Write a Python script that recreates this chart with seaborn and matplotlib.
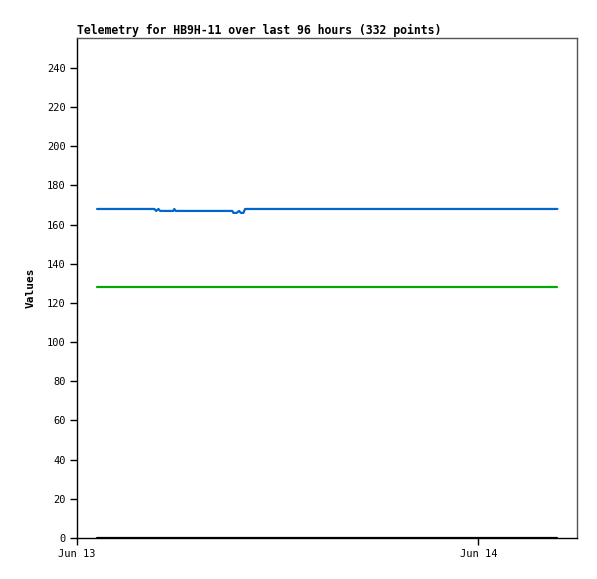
import numpy as np
import pandas as pd
import matplotlib
matplotlib.use("Agg")
import matplotlib.pyplot as plt
import matplotlib.dates as mdates
import seaborn as sns

# Data (hours after Jun 13 00:00)
start = pd.Timestamp("2023-06-13 00:00")
blue_hours = [1.2, 4.63, 4.73, 4.87, 4.97, 5.75, 5.82, 5.9, 9.29, 9.35, 9.55, 9.69, 9.8, 9.95, 10.05, 28.73]
blue_values = [168, 168, 167, 168, 167, 167, 168, 167, 167, 166, 166, 167, 166, 166, 168, 168]
green_hours = [1.2, 28.73]
green_values = [128, 128]
black_hours = [1.2, 28.73]
black_values = [0, 0]

def to_frame(hours, values):
    return pd.DataFrame({"time": start + pd.to_timedelta(hours, unit="h"), "value": values})

blue = to_frame(blue_hours, blue_values)
green = to_frame(green_hours, green_values)
black = to_frame(black_hours, black_values)

sns.set_style("ticks")
plt.rcParams['font.family'] = ['DejaVu Sans Mono']
plt.rcParams['text.color'] = 'black'
plt.rcParams['axes.labelcolor'] = 'black'
plt.rcParams['xtick.color'] = 'black'
plt.rcParams['ytick.color'] = 'black'

fig = plt.figure(figsize=(5.97, 5.79), dpi=100)
ax = fig.add_axes([77 / 597, 1 - 538 / 579, 500 / 597, 500 / 579])

sns.lineplot(data=black, x="time", y="value", color="black", linewidth=1.6, ax=ax)
sns.lineplot(data=green, x="time", y="value", color="#00aa00", linewidth=1.6, ax=ax)
sns.lineplot(data=blue, x="time", y="value", color="#0066cc", linewidth=1.6, ax=ax)

ax.set_xlim(start, start + pd.Timedelta(hours=29.9))
ax.set_ylim(0, 255.3)
ax.set_yticks(np.arange(0, 241, 20))
ax.xaxis.set_major_locator(mdates.DayLocator())
ax.xaxis.set_major_formatter(mdates.DateFormatter("%b %d"))
ax.tick_params(axis="both", direction="out", length=5, width=1, labelsize=7.5, pad=3)

for side in ["left", "bottom"]:
    ax.spines[side].set_color("black")
    ax.spines[side].set_linewidth(1)
for side in ["top", "right"]:
    ax.spines[side].set_visible(True)
    ax.spines[side].set_color("#555555")
    ax.spines[side].set_linewidth(1)

ax.set_xlabel("")
ax.set_ylabel("Values", fontsize=8, fontweight="bold")
ax.yaxis.set_label_coords(-0.082, 0.5)
ax.set_title("Telemetry for HB9H-11 over last 96 hours (332 points)", loc="left",
             fontsize=8.3, fontweight="bold", pad=3)

fig.savefig("out.png", dpi=100)
